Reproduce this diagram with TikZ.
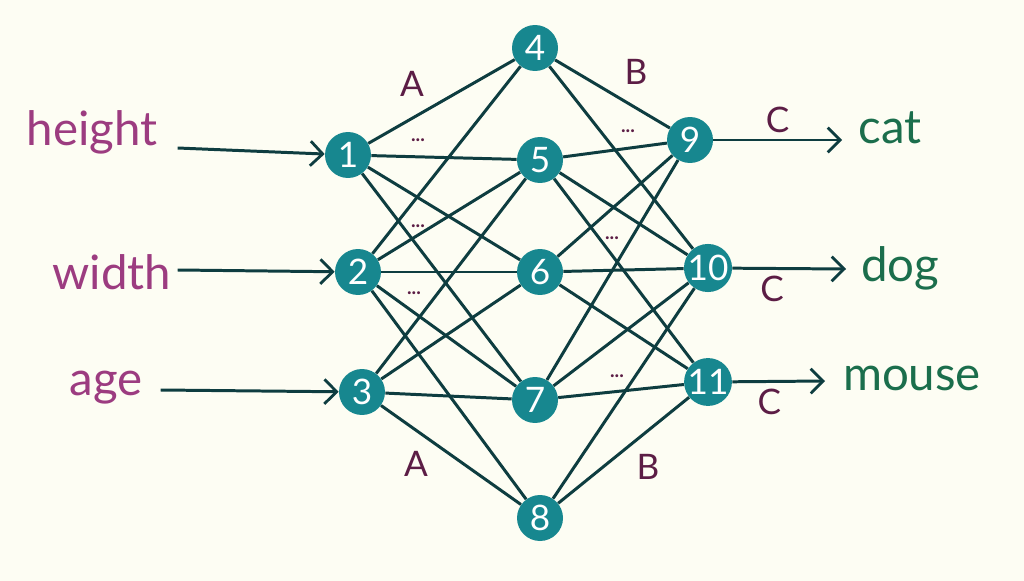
\documentclass[tikz,border=0pt]{standalone}
\usepackage{fontspec}
\setmainfont{Lato}
\usetikzlibrary{arrows.meta}
\definecolor{paper}{HTML}{FDFDF3}
\definecolor{wire}{HTML}{0E3D40}
\definecolor{unit}{HTML}{17878F}
\definecolor{feat}{HTML}{9C3C80}
\definecolor{klass}{HTML}{1B6E4C}
\definecolor{mark}{HTML}{5C1D45}
\begin{document}
\begin{tikzpicture}[x=0.02cm, y=-0.02cm]
\tikzset{neuron/.style = {circle, fill=unit, text=white, minimum size=0.92cm, inner sep=0pt, font=\fontsize{20}{20}\selectfont}}
\tikzset{link/.style = {draw=wire, line width=1.7pt}}
\tikzset{edge/.style = {link, -{Straight Barb[length=7pt, width=14pt, line width=1.6pt]}}}
\tikzset{word/.style = {font=\fontsize{27}{30}\selectfont}}
\tikzset{tag/.style = {text=mark, font=\fontsize{20}{22}\selectfont}}
\tikzset{dots/.style = {text=mark, font=\fontsize{11}{12}\selectfont\bfseries}}

\fill[paper] (0,0) rectangle (1024,581);
\useasboundingbox (0,0) rectangle (1024,581);

% input words
\node[word, text=feat] (height) at (92,132) {height};
\node[word, text=feat] (width) at (112,272) {width};
\node[word, text=feat] (age) at (106,388) {age};

% output words
\node[word, text=klass] (cat) at (890,128) {cat};
\node[word, text=klass] (dog) at (900,268) {dog};
\node[word, text=klass] (mouse) at (912,378) {mouse};

% neurons
\node[neuron] (n1) at (348,155) {1};
\node[neuron] (n2) at (358,272) {2};
\node[neuron] (n3) at (362,392) {3};
\node[neuron] (n4) at (535,48) {4};
\node[neuron] (n5) at (540,160) {5};
\node[neuron] (n6) at (540,272) {6};
\node[neuron] (n7) at (535,400) {7};
\node[neuron] (n8) at (540,518) {8};
\node[neuron] (n9) at (690,140) {9};
\node[neuron] (n10) at (708,268) {10};
\node[neuron] (n11) at (708,382) {11};

% connections
\foreach \a/\b in {1/4,1/5,1/6,1/7, 2/4,2/5,2/6,2/7,2/8, 3/5,3/6,3/7,3/8,
                   4/9,5/9,6/9,7/9, 4/10,5/10,6/10,7/10,8/10, 5/11,6/11,7/11,8/11}
  \path[link] (n\a) -- (n\b);

% arrows in and out
\coordinate (catend) at (842,140);
\coordinate (dogend) at (846,269);
\coordinate (mouseend) at (825,381);
\draw[edge] (height.east |- 0,148) ++(14,0) -- (n1);
\draw[edge] (width.east |- 0,270) -- (n2);
\draw[edge] (age.east |- 0,390) ++(12,0) -- (n3);
\draw[edge] (n9) -- (catend) node[midway, above, tag]{C};
\draw[edge] (n10) -- (dogend) node[pos=0.35, below, tag]{C};
\draw[edge] (n11) -- (mouseend) node[pos=0.4, below, tag]{C};

% weight labels
\node[tag] (a1) at (412,84) {A};
\node[tag] (b1) at (636,72) {B};
\node[tag] (a2) at (416,464) {A};
\node[tag] (b2) at (648,467) {B};
\node[dots] (d1) at (418,140) {...};
\node[dots] (d2) at (628,131) {...};
\node[dots] (d3) at (418,226) {...};
\node[dots] (d4) at (612,238) {...};
\node[dots] (d5) at (414,293) {...};
\node[dots] (d6) at (617,376) {...};
\end{tikzpicture}
\end{document}
